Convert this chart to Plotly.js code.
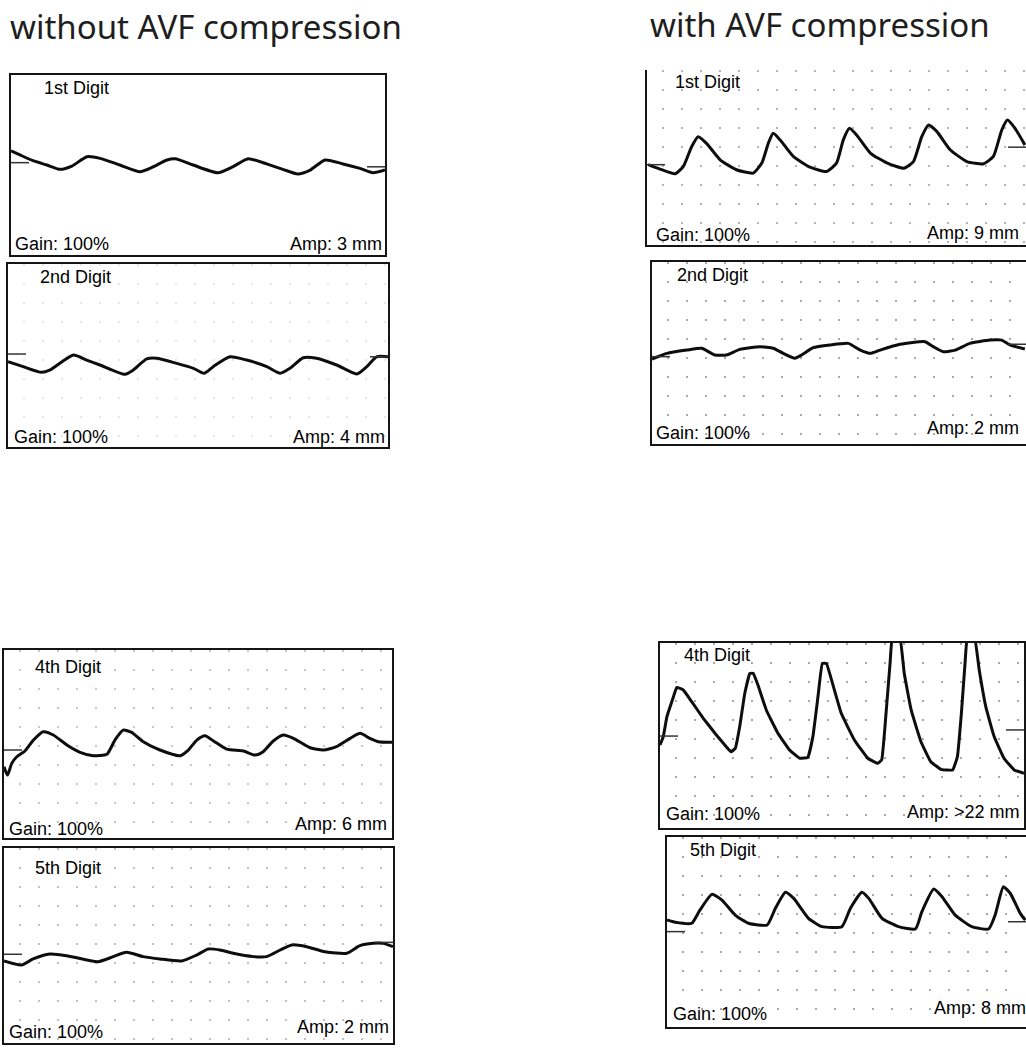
<!DOCTYPE html>
<html>
<head>
<meta charset="utf-8">
<script src="https://cdn.plot.ly/plotly-3.0.1.min.js"></script>
<style>html,body{margin:0;padding:0;background:#fff;}#chart{width:1026px;height:1050px;}</style>
</head>
<body>
<div id="chart"></div>
<script>
// ---------- DATA (x = % of panel width, y = % of panel height) ----------
const columnTitles = ['without AVF compression', 'with AVF compression'];
const digitLabels = ['1st Digit', '2nd Digit', '4th Digit', '5th Digit'];
const gainLabels = ['Gain: 100%', 'Gain: 100%', 'Gain: 100%', 'Gain: 100%'];
const ampWithout = ['Amp: 3 mm', 'Amp: 4 mm', 'Amp: 6 mm', 'Amp: 2 mm'];
const ampWith = ['Amp: 9 mm', 'Amp: 2 mm', 'Amp: >22 mm', 'Amp: 8 mm'];

// without compression – 1st digit
const off1_t = [0,2.4,5.9,9.6,13.1,16.3,20.3,23.8,29.1,34.5,37.7,41.7,43.9,48.7,55.3,59.4,63.4,68.4,72.7,76.7,80,84,88.8,93.3,96.8,100];
const off1_v = [57.9,55.6,52.4,50,47.6,49.4,54.6,53.7,50,46.3,48.7,52.8,53.5,50,45.7,49.1,53.5,50.6,47.6,45,47.2,52.8,50.6,48.1,45.7,47.2];
// without compression – 2nd digit
const off2_t = [0,4,8.8,11.1,17.2,20.7,24.2,30.8,33,36.5,39.1,44.4,48.8,51.6,54,58.4,62.8,68.1,71.6,74.2,77.7,81.2,86.5,91.8,94.4,97,100];
const off2_v = [46.6,43.9,40.8,42.1,50.3,47.5,44.8,39.7,42.1,48.1,48.5,45.7,43,40.3,43.9,49.3,47.5,43.9,40.3,43,48.8,48.5,44.8,39.9,43.9,49.3,49.3];
// without compression – 4th digit
const off4_t = [0,0.9,2,3.3,5.4,7.6,10.1,12.7,16.2,19.6,23,26.5,28.6,30.7,32.9,35.9,40.2,45.4,47.5,49.7,51.8,54,57.4,61.7,64.7,66.8,69.4,72,74.6,78.9,82.3,85.7,89.2,91.8,94.3,96.5,100];
const off4_v = [37.9,33.5,39.7,43.2,46.3,52.1,56.5,54.8,49.5,45.6,43.8,44.5,52.1,57.4,56.2,51.2,46.8,43.8,46.8,52.1,54.4,51.6,47.3,46.3,44.1,45.9,51.6,54.8,53,48,46.8,48.6,53,55.7,53,51.2,50.9];
// without compression – 5th digit
const off5_t = [0,4.5,7.5,11.8,16.1,24.2,28.1,31.5,35.8,40.1,45.7,49.5,52.5,55.5,58.9,64.1,67.5,71,74,77.8,82.5,88.1,91.5,94.9,97.5,100];
const off5_v = [42.1,40,43.1,45.6,44.8,41.7,44.3,46.5,44.3,43.1,42.1,45.1,48.2,47.7,46,44.3,44.3,47.7,50.3,49.4,46.8,46,49.9,51.1,51.1,49.4];

// with compression – 1st digit
const on1_t = [0.3,3.4,7.4,9.6,11.8,13.5,15.7,19.3,23.6,28,30.3,32,33.3,35.1,38.6,43,47.4,50,51.8,53.4,55.3,59,63.4,67.8,70.3,72.5,74.3,76.5,80,84.4,88.8,91.4,93.6,95.1,97.1,99.7];
const on1_v = [45.9,43.4,40.7,44.9,56.3,61.9,58.1,48.7,43,41.1,46.8,58.1,63.8,60.1,50.6,44.5,42,46.8,60.1,66.7,62.9,52.4,46.8,43.9,47.7,61.9,68.6,64.8,54.4,47.7,46.4,50.6,65.7,71.4,66.7,57.2];
// with compression – 2nd digit
const on2_t = [0,4,9.3,13.3,16.8,19.9,23.5,28.9,32.4,35.1,38.2,40,43.1,47.6,52.5,55.7,58.4,61,66.3,73,75.2,77.9,81.1,85,90.4,93.5,95.7,99.7];
const on2_v = [46.7,49.8,51.6,52.6,48.9,48.9,52,53.5,52.6,49.8,47.1,48.9,52.9,54.4,55.3,51.6,49.8,51.6,54.8,56.2,53.5,50.7,51.6,55.3,57.1,57.1,54.4,52.2];
// with compression – 4th digit (peaks run past the top of the panel)
const on4_t = [0,0.9,1.9,3.7,4.6,6.4,8.7,11.9,15.1,17.4,19.5,20.7,21.9,23.3,24.7,25.6,26.9,29.2,32.4,35.6,38.4,40.6,42,43.4,44.6,45.7,47,49.8,53.4,57.1,59.8,60.9,62.1,63.2,63.9,65.8,67.1,69,71.7,74.4,77.2,80.4,81.7,82.8,83.8,84.5,86.3,87.7,89.5,91.8,94.5,97.3,100];
const on4_v = [44.9,49.4,60.2,71,76,74.6,68.3,59.3,51.2,45.8,41.2,43.1,54.8,72.8,83.6,83.6,77.3,63.8,51.2,42.2,37.7,38.2,49.4,71,89,89,80.9,62,47.6,37.7,35,36.8,62,89,104,104,83.6,63.8,46.6,35.8,31.7,31.4,38.5,62,89,104,104,85.4,65.6,49.4,37.7,31.4,29.6];
// with compression – 5th digit
const on5_t = [0,2.3,6.9,9.2,12.5,15.3,19,22.7,27.9,30.2,33,35.3,39.4,43.2,48.7,51.1,54.3,56.2,59.9,64.5,69.2,71,74.3,76.6,80.3,84.9,89.6,91.4,93.7,95.6,98.4,99.8];
const on5_v = [56.3,55.1,54.6,61.6,69.8,66.8,58.9,54.6,53.7,62.5,70.9,67.7,57.2,52.8,52.8,62.5,70.9,67.7,57.2,52.8,51.6,60.7,72.6,68.6,58.9,52.8,51.6,58.9,73.8,70.4,59.8,56.3];

// baseline markers at the left and right edge of each panel (% of height)
const baseLeftOff = [51.3, 50.8, 46.8, 45.5];
const baseRightOff = [49.0, 49.3, null, 51.6];
const baseLeftOn = [45.9, 48.0, 49.7, 50.2];
const baseRightOn = [55.9, 54.8, 53.0, 55.4];

// ---------- STYLE / LAYOUT ----------
const W = 1026, H = 1050;
const panels = [
  // column 0 (without)
  {t: off1_t, v: off1_v, bl: baseLeftOff[0], br: baseRightOff[0], box: [11, 75, 385, 255], top: true, grid: null, smooth: 0.6,
   dig: [42, 88], gain: [13, 244], amp: [384, 244], ampText: ampWithout[0], digText: digitLabels[0]},
  {t: off2_t, v: off2_v, bl: baseLeftOff[1], br: baseRightOff[1], box: [8, 264, 388, 447], top: true, grid: '#e6e6e6', smooth: 0.6,
   dig: [38, 277], gain: [12, 437], amp: [387, 437], ampText: ampWithout[1], digText: digitLabels[1]},
  {t: off4_t, v: off4_v, bl: baseLeftOff[2], br: baseRightOff[2], box: [4, 650, 392, 838], top: true, grid: '#c8c8c8', smooth: 0.6,
   dig: [33, 667], gain: [7, 829], amp: [389, 824], ampText: ampWithout[2], digText: digitLabels[2]},
  {t: off5_t, v: off5_v, bl: baseLeftOff[3], br: baseRightOff[3], box: [4, 848, 393, 1043], top: true, grid: '#c0c0c0', smooth: 0.6,
   dig: [33, 868], gain: [7, 1032], amp: [391, 1027], ampText: ampWithout[3], digText: digitLabels[3]},
  // column 1 (with)
  {t: on1_t, v: on1_v, bl: baseLeftOn[0], br: baseRightOn[0], box: [647, 70, 1026, 245], top: false, grid: '#b4b4b4', smooth: 0.5,
   dig: [673, 82], gain: [654, 235], amp: [1021, 233], ampText: ampWith[0], digText: digitLabels[0]},
  {t: on2_t, v: on2_v, bl: baseLeftOn[1], br: baseRightOn[1], box: [652, 262, 1026, 444], top: true, grid: '#a8a8a8', smooth: 0.5,
   dig: [675, 275], gain: [654, 433], amp: [1021, 428], ampText: ampWith[1], digText: digitLabels[1]},
  {t: on4_t, v: on4_v, bl: baseLeftOn[2], br: baseRightOn[2], box: [660, 643, 1024, 828], top: true, grid: '#a8a8a8', smooth: 0.3,
   dig: [682, 655], gain: [664, 814], amp: [1022, 812], ampText: ampWith[2], digText: digitLabels[2]},
  {t: on5_t, v: on5_v, bl: baseLeftOn[3], br: baseRightOn[3], box: [667, 837, 1026, 1027], top: true, grid: '#a8a8a8', smooth: 0.5,
   dig: [688, 850], gain: [671, 1014], amp: [1028, 1008], ampText: ampWith[3], digText: digitLabels[3]}
];

const px = x => x / W;
const py = y => 1 - y / H;
const labelFont = {family: 'Liberation Sans, Arial, sans-serif', size: 18, color: '#000000'};
const lineColor = '#151515';
const dotStep = 19; // px between grid dots

const traces = [];
const layout = {
  width: W, height: H,
  margin: {l: 0, r: 0, t: 0, b: 0},
  paper_bgcolor: '#ffffff', plot_bgcolor: 'rgba(0,0,0,0)',
  showlegend: false,
  annotations: [],
  hovermode: false
};

panels.forEach((p, i) => {
  const n = i + 1;
  const xa = n === 1 ? 'x' : 'x' + n;
  const ya = n === 1 ? 'y' : 'y' + n;
  const [x0, y0, x1, y1] = p.box;
  const wpx = x1 - x0;
  const tickLen = 18 / wpx * 100;

  layout['xaxis' + (n === 1 ? '' : n)] = {
    domain: [px(x0), Math.min(1, px(x1))], anchor: ya, range: [0, 100],
    showline: true, linecolor: lineColor, linewidth: 1.8, mirror: p.top,
    showticklabels: false, ticks: '', zeroline: false,
    showgrid: !!p.grid, gridcolor: p.grid || '#fff', gridwidth: 2.2,
    griddash: '2.2px,' + (dotStep - 2.2) + 'px',
    dtick: dotStep / wpx * 100, tick0: 16 / wpx * 100, fixedrange: true
  };
  layout['yaxis' + (n === 1 ? '' : n)] = {
    domain: [py(y1), py(y0)], anchor: xa, range: [0, 100],
    showline: true, linecolor: lineColor, linewidth: 1.8, mirror: true,
    showticklabels: false, ticks: '', zeroline: false, showgrid: false, fixedrange: true
  };

  // waveform
  traces.push({
    type: 'scatter', mode: 'lines', x: p.t, y: p.v, xaxis: xa, yaxis: ya,
    line: {color: '#0d0d0d', width: 3, shape: 'spline', smoothing: p.smooth},
    hoverinfo: 'skip'
  });
  // baseline markers
  if (p.bl !== null) traces.push({type: 'scatter', mode: 'lines', x: [0, tickLen], y: [p.bl, p.bl],
    xaxis: xa, yaxis: ya, line: {color: '#333', width: 1.5}, hoverinfo: 'skip'});
  if (p.br !== null) traces.push({type: 'scatter', mode: 'lines', x: [100 - tickLen, 100], y: [p.br, p.br],
    xaxis: xa, yaxis: ya, line: {color: '#333', width: 1.5}, hoverinfo: 'skip'});

  // labels
  layout.annotations.push(
    {text: p.digText, xref: 'paper', yref: 'paper', x: px(p.dig[0]), y: py(p.dig[1]),
     xanchor: 'left', yanchor: 'middle', showarrow: false, font: labelFont},
    {text: gainLabels[i % 4], xref: 'paper', yref: 'paper', x: px(p.gain[0]), y: py(p.gain[1]),
     xanchor: 'left', yanchor: 'middle', showarrow: false, font: labelFont},
    {text: p.ampText, xref: 'paper', yref: 'paper', x: px(p.amp[0]), y: py(p.amp[1]),
     xanchor: 'right', yanchor: 'middle', showarrow: false, font: labelFont}
  );
});

// column titles
layout.annotations.push(
  {text: columnTitles[0], xref: 'paper', yref: 'paper', x: px(8), y: py(27), xanchor: 'left', yanchor: 'middle',
   showarrow: false, font: {family: 'Noto Sans, Open Sans, sans-serif', size: 33, color: '#1e1e1e'}},
  {text: columnTitles[1], xref: 'paper', yref: 'paper', x: px(648), y: py(24), xanchor: 'left', yanchor: 'middle',
   showarrow: false, font: {family: 'Noto Sans, Open Sans, sans-serif', size: 33, color: '#1e1e1e'}}
);

Plotly.newPlot('chart', traces, layout, {staticPlot: true, displayModeBar: false});
</script>
</body>
</html>
